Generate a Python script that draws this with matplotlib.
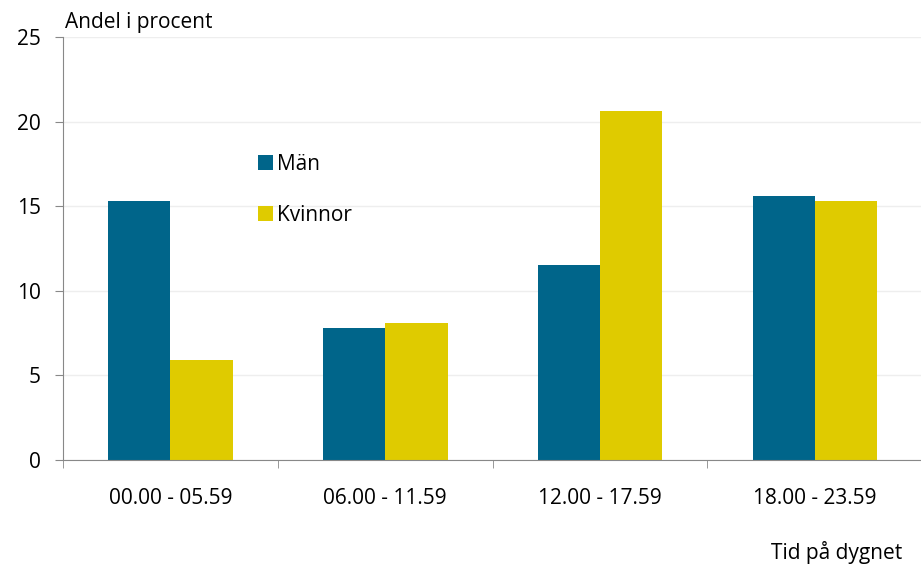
import matplotlib

matplotlib.use("Agg")
import matplotlib.pyplot as plt
import numpy as np

plt.rcParams["font.family"] = ["Open Sans", "DejaVu Sans"]

categories = ["00.00 - 05.59", "06.00 - 11.59", "12.00 - 17.59", "18.00 - 23.59"]
man = [15.3, 7.8, 11.5, 15.6]
kvinnor = [5.9, 8.1, 20.6, 15.3]
series_names = ["Män", "Kvinnor"]

_MAN = "#00658a"
_KVI = "#dfcb00"
_AXIS = "#888888"
FS = 15

fig = plt.figure(figsize=(9.21, 5.65), dpi=100)
ax = fig.add_axes([0.0684, 0.186, 0.933, 0.7485])

x = np.arange(len(categories))
w = 0.29
ax.bar(x - w / 2, man, width=w, color=_MAN, label=series_names[0], zorder=2)
ax.bar(x + w / 2, kvinnor, width=w, color=_KVI, label=series_names[1], zorder=2)

ax.set_xlim(-0.5, len(categories) - 0.5)
ax.set_ylim(0, 25)
ax.set_yticks(np.arange(0, 26, 5))
ax.grid(axis="y", color="#eeeeee", linewidth=1, zorder=0)

# category labels centred, tick marks on the boundaries
ax.set_xticks(x)
ax.set_xticklabels(categories, fontsize=FS)
ax.tick_params(axis="x", length=0, pad=20)
ax.set_xticks(np.arange(-0.5, len(categories), 1.0), minor=True)
ax.tick_params(axis="x", which="minor", length=6, color=_AXIS, direction="out")
ax.tick_params(axis="y", length=6, color=_AXIS, labelsize=FS, pad=10)

ax.spines[["top", "right"]].set_visible(False)
for s in ("left", "bottom"):
    ax.spines[s].set_color(_AXIS)

fig.text(0.071, 0.96, "Andel i procent", fontsize=FS, ha="left", va="center")
fig.text(0.98, 0.023, "Tid på dygnet", fontsize=FS, ha="right", va="center")

ax.legend(loc="upper left", bbox_to_anchor=(0.2275, 0.724), frameon=False,
          fontsize=FS, handlelength=0.7, handleheight=0.7, handletextpad=0.2,
          labelspacing=1.45, borderpad=0, borderaxespad=0)

fig.savefig("out.png", dpi=100)
plt.close(fig)
